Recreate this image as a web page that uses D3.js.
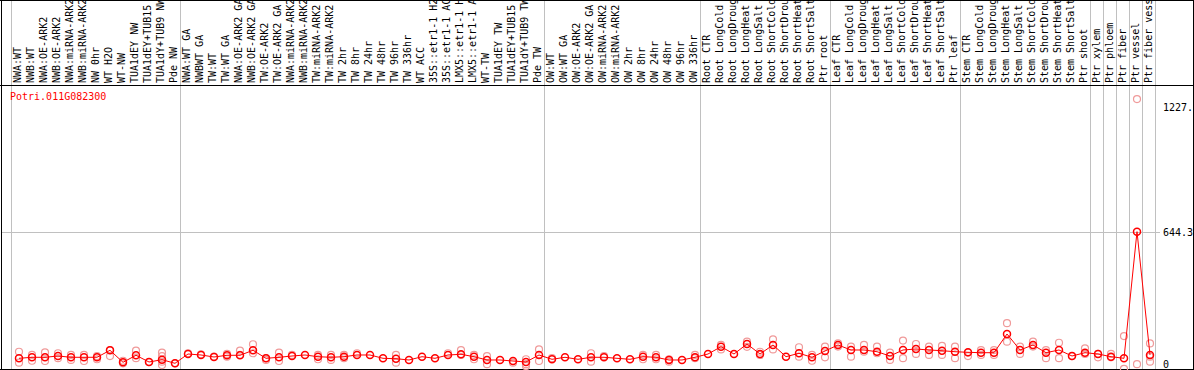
<!DOCTYPE html>
<html>
<head>
<meta charset="utf-8">
<script src="https://cdn.jsdelivr.net/npm/d3@7"></script>
<style>
body { margin: 0; background: #fff; }
text { font-family: "DejaVu Sans Mono", monospace; font-size: 10px; }
</style>
</head>
<body>
<div id="chart"></div>
<script>
// gene shown in the plot
var geneId = "Potri.011G082300";

// sample names, one per column (header labels)
var samples = [
	"NWA:WT", "NWB:WT", "NWA:OE-ARK2", "NWB:OE-ARK2", "NWA:miRNA-ARK2", "NWB:miRNA-ARK2",
	"NW 0hr", "WT H2O", "WT-NW", "TUA1dEY NW", "TUA1dEY+TUB15 NW", "TUA1dY+TUB9 NW", "Pde NW",
	"NWA:WT GA", "NWBWT GA", "TW:WT", "TW:WT GA", "NWA:OE-ARK2 GA", "NWB:OE-ARK2 GA",
	"TW:OE-ARK2", "TW:OE-ARK2 GA", "NWA:miRNA-ARK2", "NWB:miRNA-ARK2", "TW:miRNA-ARK2", "TW:miRNA-ARK2",
	"TW 2hr", "TW 8hr", "TW 24hr", "TW 48hr", "TW 96hr", "TW 336hr", "WT ACC",
	"35S::etr1-1 H2O", "35S::etr1-1 ACC", "LMX5::etr1-1 H2O", "LMX5::etr1-1 ACC",
	"WT-TW", "TUA1dEY TW", "TUA1dEY+TUB15 TW", "TUA1dY+TUB9 TW", "Pde TW",
	"OW:WT", "OW:WT GA", "OW:OE-ARK2", "OW:OE-ARK2 GA", "OW:miRNA-ARK2", "OW:miRNA-ARK2",
	"OW 2hr", "OW 8hr", "OW 24hr", "OW 48hr", "OW 96hr", "OW 336hr",
	"Root CTR", "Root LongCold", "Root LongDrought", "Root LongHeat", "Root LongSalt",
	"Root ShortCold", "Root ShortDrought", "Root ShortHeat", "Root ShortSalt", "Ptr root",
	"Leaf CTR", "Leaf LongCold", "Leaf LongDrought", "Leaf LongHeat", "Leaf LongSalt",
	"Leaf ShortCold", "Leaf ShortDrought", "Leaf ShortHeat", "Leaf ShortSalt", "Ptr leaf",
	"Stem CTR", "Stem LongCold", "Stem LongDrought", "Stem LongHeat", "Stem LongSalt",
	"Stem ShortCold", "Stem ShortDrought", "Stem ShortHeat", "Stem ShortSalt", "Ptr shoot",
	"Ptr xylem", "Ptr phloem", "Ptr fiber", "Ptr vessel", "Ptr fiber vessel"
];

// mean expression per sample
var means = [
	54.5, 59.2, 59.2, 65.2, 59.2, 59.2, 59.2, 91.8, 35.9, 68.5, 37.3, 48.0, 31.2,
	74.5, 69.9, 60.6, 68.5, 68.5, 91.8, 54.5, 59.2, 65.2, 69.9, 62.0, 59.2, 62.0,
	69.9, 69.9, 54.5, 52.6, 46.6, 62.0, 54.5, 69.9, 73.1, 62.0, 46.6, 46.6, 41.9, 37.3, 69.9,
	49.8, 59.2, 49.8, 59.2, 59.2, 54.5, 49.8, 62.0, 59.2, 46.6, 46.6, 59.2,
	74.5, 108.5, 74.5, 121.1, 74.5, 116.5, 62.0, 77.8, 59.2, 88.5,
	116.5, 93.2, 93.2, 85.2, 65.2, 93.2, 97.8, 93.2, 89.9, 85.2,
	82.4, 80.6, 80.6, 167.7, 93.2, 116.5, 80.6, 93.2, 65.2, 80.6,
	74.5, 62.0, 54.5, 644.3, 69.9
];

// individual replicates per sample
var replicates = [
	[85, 34], [70, 43], [82, 42], [78, 55], [70, 47], [70, 42], [65, 50], [93, 65], [43, 31], [90, 55], [37], [81, 65, 39, 23], [31],
	[78], [73], [62], [75, 62], [90, 70], [120, 78], [55, 47], [81, 42], [70], [], [70, 50], [70, 47], [70, 55],
	[78], [], [], [70, 34], [], [], [], [78], [93, 70], [70, 50], [65, 27], [], [34], [50, 27, 19], [96, 42],
	[55], [], [], [78, 39], [65], [], [], [70, 50], [70, 50], [50, 39], [], [70, 55],
	[], [117, 96], [], [132, 108], [85, 70], [143, 96], [], [106, 62], [70, 43], [109, 59],
	[124, 109], [109, 62], [117, 85], [109, 78], [81, 47], [137, 55], [121, 75], [109, 70], [112, 70], [109, 55],
	[81, 65], [93, 70], [93, 70], [218, 132], [109, 75], [132, 109], [93, 55], [127, 55], [65], [101, 75],
	[75, 59], [75, 59], [158, 5], [1262, 27], [124, 62, 39]
];

// column index where a new tissue group starts (gray separators)
var groupBreaks = [0, 13, 41, 53, 63, 73, 83, 84, 85, 86, 87, 88];

// right axis labels
var axisTicks = [0, 644.3, 1227.3];
var tickLabels = ["0", "644.3", "1227.3"];

var width = 1194;
var height = 370;
var headerH = 86;

var svg = d3.select("#chart")
	.append("svg")
	.attr("width", width)
	.attr("height", height)
	.style("display", "block");

var x = d3.scaleBand()
	.domain(d3.range(samples.length))
	.range([11, 11 + 13 * samples.length])
	.paddingInner(0)
	.paddingOuter(0);

var y = d3.scaleLinear()
	.domain([0, 1227.3])
	.range([370, 106.5]);

// band edge, also for the closing separator after the last column
var edge = d => d < samples.length ? x(d) : x.range()[1];

// gray group separators, full height
svg.selectAll("line.sep")
	.data(groupBreaks)
	.enter()
	.append("line")
	.attr("class", "sep")
	.attr("x1", d => edge(d) + 0.5)
	.attr("x2", d => edge(d) + 0.5)
	.attr("y1", 0)
	.attr("y2", height)
	.style("stroke", "#c0c0c0")
	.style("stroke-width", 1);

// header labels, rotated
svg.append("g")
	.selectAll("text")
	.data(samples)
	.enter()
	.append("text")
	.attr("transform", (d, i) => "translate(" + (x(i) + 10) + "," + (headerH - 3) + ") rotate(-90)")
	.attr("text-anchor", "start")
	.style("fill", "#000")
	.text(d => d);

// frame lines
svg.append("line").attr("x1", 0).attr("x2", width).attr("y1", 0.5).attr("y2", 0.5).style("stroke", "#000");
svg.append("line").attr("x1", 0).attr("x2", width).attr("y1", headerH - 0.5).attr("y2", headerH - 0.5).style("stroke", "#000");
svg.append("line").attr("x1", 0).attr("x2", width).attr("y1", 369.5).attr("y2", 369.5).style("stroke", "#000");
svg.append("line").attr("x1", 1.5).attr("x2", 1.5).attr("y1", 0).attr("y2", height).style("stroke", "#000");
svg.append("line").attr("x1", 1193.5).attr("x2", 1193.5).attr("y1", 0).attr("y2", height).style("stroke", "#000");

// gridline at the middle tick
svg.append("line")
	.attr("x1", 2)
	.attr("x2", 1160)
	.attr("y1", Math.round(y(axisTicks[1])) + 0.5)
	.attr("y2", Math.round(y(axisTicks[1])) + 0.5)
	.style("stroke", "#c0c0c0");

// right axis
var axis = d3.axisRight(y)
	.tickValues(axisTicks)
	.tickFormat((d, i) => tickLabels[i])
	.tickSize(0)
	.tickPadding(0);

var ax = svg.append("g")
	.attr("transform", "translate(1163,0)")
	.call(axis);
ax.select(".domain").remove();
ax.selectAll("text")
	.style("font-family", "DejaVu Sans Mono, monospace")
	.style("font-size", "10px")
	.style("fill", "#000")
	.attr("dy", (d, i) => i == 0 ? "-0.3em" : "0.35em");

// gene title
svg.append("text")
	.attr("x", 10)
	.attr("y", 100)
	.style("fill", "#ff0000")
	.text(geneId);

// points sit slightly right of the band centre, as in the original
var cx = i => x(i) + 8;

// replicate circles
var repPts = [];
replicates.forEach((r, i) => r.forEach(v => repPts.push({i: i, v: v})));

svg.append("g")
	.selectAll("circle")
	.data(repPts)
	.enter()
	.append("circle")
	.attr("cx", d => cx(d.i))
	.attr("cy", d => y(d.v))
	.attr("r", 3.5)
	.style("fill", "none")
	.style("stroke", "#f09a9a")
	.style("stroke-width", 1.2);

// mean line
var line = d3.line()
	.x((d, i) => cx(i))
	.y(d => y(d));

svg.append("path")
	.datum(means)
	.attr("d", line)
	.style("fill", "none")
	.style("stroke", "#ff0000")
	.style("stroke-width", 1);

// mean circles
svg.append("g")
	.selectAll("circle")
	.data(means)
	.enter()
	.append("circle")
	.attr("cx", (d, i) => cx(i))
	.attr("cy", d => y(d))
	.attr("r", 3.5)
	.style("fill", "none")
	.style("stroke", "#ff0000")
	.style("stroke-width", 1.5);
</script>
</body>
</html>
